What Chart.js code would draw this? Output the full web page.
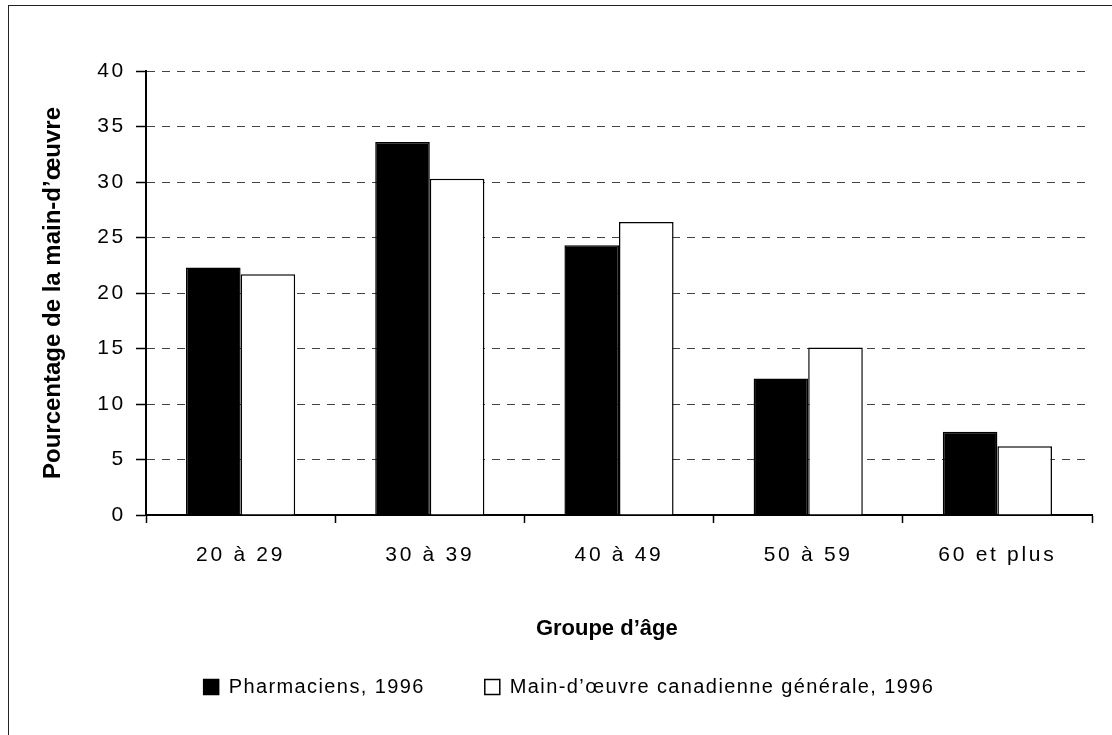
<!DOCTYPE html>
<html>
<head>
<meta charset="utf-8">
<script src="https://cdn.jsdelivr.net/npm/chart.js@4.4.1/dist/chart.umd.min.js"></script>
<style>
  html, body { margin: 0; padding: 0; background: #fff; overflow: hidden; }
  #frame { position: absolute; left: 8px; top: 5px; width: 1300px; height: 900px; border: 1.5px solid #222; }
  #wrap { position: absolute; left: 0; top: 0; width: 1112px; height: 735px; }
</style>
</head>
<body>
<div id="frame"></div>
<div id="wrap"><canvas id="barChart" width="1112" height="735"></canvas></div>
<script>
// data
var ageGroups = ['20 à 29', '30 à 39', '40 à 49', '50 à 59', '60 et plus'];
var pharmaciens = [22.3, 33.6, 24.3, 12.3, 7.5];
var mainOeuvre = [21.7, 30.3, 26.4, 15.1, 6.2];
var seriesNames = ['Pharmaciens, 1996', 'Main-d\u2019\u0153uvre canadienne générale, 1996'];
var yTicks = [0, 5, 10, 15, 20, 25, 30, 35, 40];

var canvas = document.getElementById('barChart');
var ctx = canvas.getContext('2d');

// the original font is widely tracked; bold titles are not
function spacing(c) {
    if (/bold/.test(c.font)) c.letterSpacing = '0px';
    else if (/21px/.test(c.font)) c.letterSpacing = '2.7px';
    else c.letterSpacing = '1.4px';
}
var protoFill = CanvasRenderingContext2D.prototype.fillText;
var protoMeasure = CanvasRenderingContext2D.prototype.measureText;
ctx.fillText = function (t, x, y, w) {
    spacing(this);
    return w === undefined ? protoFill.call(this, t, x, y) : protoFill.call(this, t, x, y, w);
};
ctx.measureText = function (t) {
    spacing(this);
    return protoMeasure.call(this, t);
};

Chart.defaults.font.family = "'Liberation Sans', Arial, sans-serif";
Chart.defaults.color = '#000';

new Chart(ctx, {
    type: 'bar',
    data: {
        labels: ageGroups,
        datasets: [{
            label: seriesNames[0],
            data: pharmaciens,
            backgroundColor: '#000',
            borderColor: '#000',
            borderWidth: 1.5
        }, {
            label: seriesNames[1],
            data: mainOeuvre,
            backgroundColor: '#fff',
            borderColor: '#000',
            borderWidth: 1.5
        }]
    },
    options: {
        responsive: false,
        animation: false,
        layout: {
            padding: { left: 46, right: 20, top: 71, bottom: 28 }
        },
        datasets: {
            bar: { categoryPercentage: 0.577, barPercentage: 1 }
        },
        scales: {
            x: {
                border: { display: true, color: '#000', width: 2 },
                grid: {
                    offset: true,
                    drawOnChartArea: false,
                    drawTicks: true,
                    tickLength: 8,
                    tickColor: '#000',
                    tickWidth: 1.5
                },
                ticks: { font: { size: 21 }, padding: 20, maxRotation: 0 },
                title: {
                    display: true,
                    text: 'Groupe d\u2019âge    ',
                    font: { size: 22, weight: 'bold' },
                    padding: { top: 0, bottom: -25 }
                },
                afterFit: function (scale) { scale.height = 102; }
            },
            y: {
                min: 0,
                max: 40,
                afterBuildTicks: function (scale) {
                    scale.ticks = yTicks.map(function (v) { return { value: v }; });
                },
                border: { display: true, color: '#000', width: 2, dash: [8, 7] },
                grid: {
                    color: '#444',
                    lineWidth: 1,
                    tickBorderDash: [],
                    tickColor: '#000',
                    tickWidth: 1.5,
                    tickLength: 10
                },
                ticks: { font: { size: 21 }, padding: 10 },
                title: {
                    display: true,
                    text: 'Pourcentage de la main-d\u2019\u0153uvre',
                    font: { size: 24, weight: 'bold' },
                    padding: { top: -7, bottom: 0 }
                },
                afterFit: function (scale) { scale.width = 100; }
            }
        },
        plugins: {
            tooltip: { enabled: false },
            legend: {
                position: 'bottom',
                labels: {
                    boxWidth: 15,
                    boxHeight: 15,
                    padding: 60,
                    font: { size: 20 }
                }
            }
        }
    }
});
</script>
</body>
</html>
